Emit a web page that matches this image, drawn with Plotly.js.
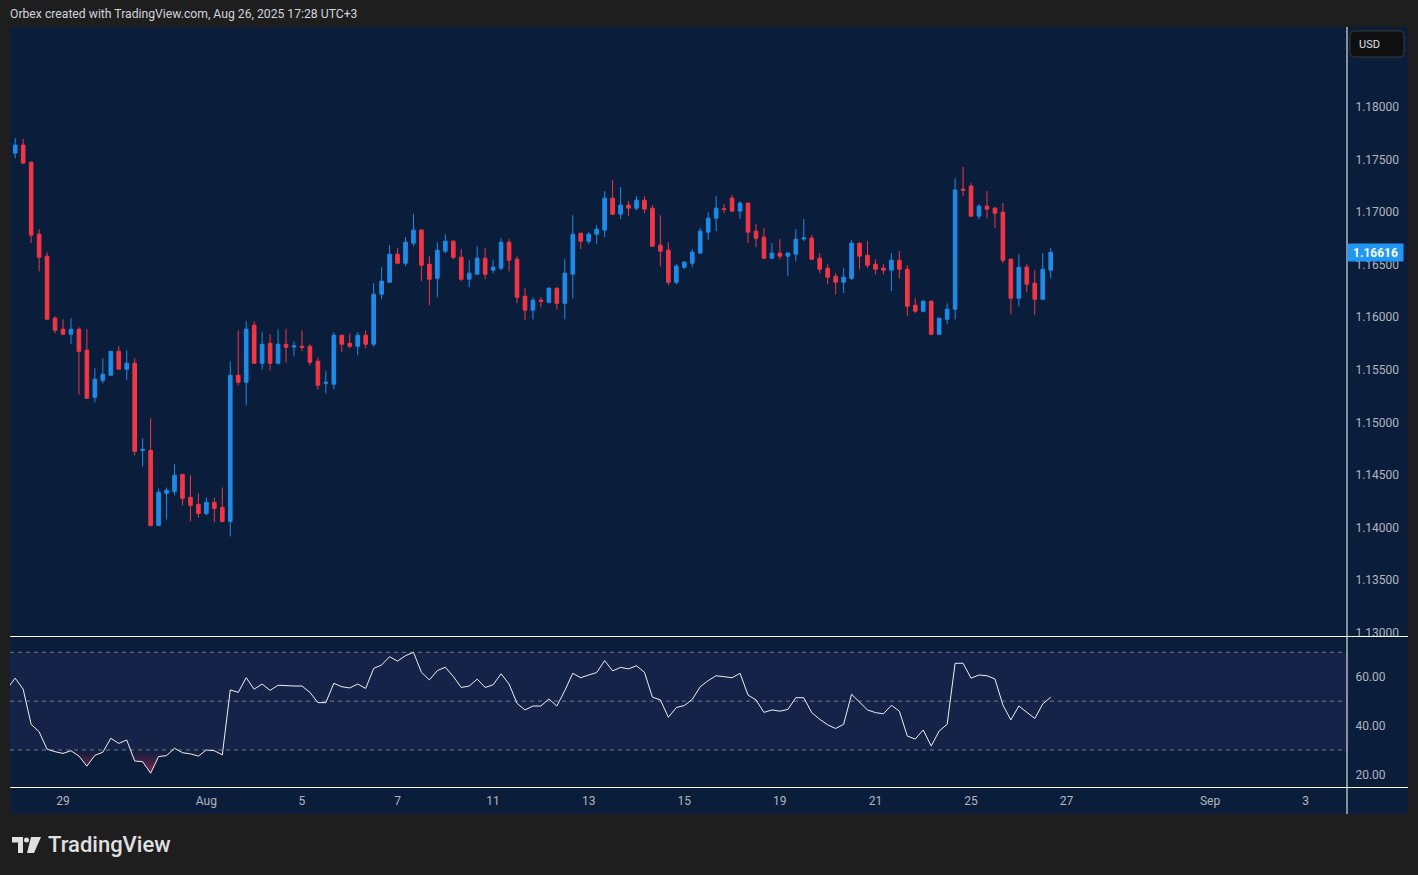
<!DOCTYPE html>
<html>
<head>
<meta charset="utf-8">
<script src="https://cdn.plot.ly/plotly-3.0.1.min.js"></script>
<style>
  html, body { margin: 0; padding: 0; background: #1e1e1e; }
  #chart { width: 1418px; height: 875px; }
</style>
</head>
<body>
<div id="chart"></div>
<script>
// ---- Data: EURUSD 4H candles, Jul 28 2025 00:00 -> Aug 26 2025 16:00 (UTC+3) ----
const opens = [
1.17562,1.17638,1.17476,1.16790,1.16581,1.15990,1.15886,1.15838,1.15886,1.15686,
1.15238,1.15400,1.15448,1.15676,1.15505,1.15562,1.14733,1.14733,1.14019,1.14324,
1.14343,1.14505,1.14286,1.14219,1.14133,1.14238,1.14190,1.14057,1.15448,1.15381,
1.15924,1.15562,1.15752,1.15562,1.15743,1.15717,1.15724,1.15724,1.15581,1.15371,
1.15362,1.15829,1.15752,1.15724,1.15829,1.15743,1.16219,1.16333,1.16600,1.16514,
1.16705,1.16829,1.16505,1.16371,1.16629,1.16724,1.16571,1.16362,1.16410,1.16562,
1.16448,1.16467,1.16714,1.16552,1.16200,1.16067,1.16162,1.16143,1.16276,1.16133,
1.16410,1.16800,1.16724,1.16790,1.16829,1.17133,1.16981,1.17067,1.17038,1.17114,
1.17038,1.16686,1.16638,1.16333,1.16476,1.16514,1.16610,1.16810,1.16943,1.17033,
1.17133,1.17010,1.17086,1.16819,1.16762,1.16562,1.16610,1.16581,1.16600,1.16745,
1.16752,1.16562,1.16467,1.16390,1.16333,1.16371,1.16705,1.16590,1.16505,1.16467,
1.16448,1.16543,1.16457,1.16114,1.16057,1.16152,1.15838,1.15981,1.16076,1.17219,
1.17248,1.16962,1.17057,1.17038,1.17000,1.16552,1.16181,1.16476,1.16324,1.16171,
1.16448];
const highs = [
1.17705,1.17695,1.17480,1.16838,1.16619,1.16010,1.15981,1.15990,1.15905,1.15886,
1.15514,1.15610,1.15676,1.15724,1.15686,1.15610,1.14848,1.15038,1.14371,1.14381,
1.14600,1.14505,1.14495,1.14324,1.14286,1.14286,1.14381,1.15581,1.15876,1.15962,
1.15962,1.15857,1.15838,1.15886,1.15886,1.15771,1.15876,1.15743,1.15619,1.15486,
1.15857,1.15829,1.15848,1.15857,1.15876,1.16324,1.16476,1.16686,1.16657,1.16762,
1.16981,1.16838,1.16581,1.16714,1.16790,1.16733,1.16648,1.16543,1.16676,1.16657,
1.16543,1.16752,1.16743,1.16581,1.16276,1.16190,1.16190,1.16286,1.16286,1.16552,
1.16971,1.16800,1.16810,1.16876,1.17200,1.17305,1.17238,1.17105,1.17152,1.17152,
1.17067,1.16971,1.16714,1.16505,1.16533,1.16648,1.16848,1.17000,1.17152,1.17076,
1.17162,1.17105,1.17086,1.16886,1.16848,1.16705,1.16743,1.16619,1.16838,1.16933,
1.16781,1.16610,1.16505,1.16419,1.16467,1.16733,1.16714,1.16724,1.16552,1.16505,
1.16610,1.16629,1.16495,1.16181,1.16162,1.16162,1.15995,1.16133,1.17324,1.17429,
1.17276,1.17076,1.17200,1.17048,1.17086,1.16562,1.16600,1.16505,1.16448,1.16610,
1.16657];
const lows = [
1.17514,1.17460,1.16708,1.16438,1.15981,1.15848,1.15838,1.15743,1.15267,1.15229,
1.15190,1.15371,1.15448,1.15505,1.15400,1.14686,1.14581,1.14010,1.14019,1.14076,
1.14305,1.14210,1.14057,1.14095,1.14114,1.14048,1.14048,1.13914,1.15352,1.15162,
1.15562,1.15505,1.15495,1.15552,1.15571,1.15629,1.15676,1.15543,1.15314,1.15276,
1.15314,1.15667,1.15705,1.15638,1.15705,1.15720,1.16171,1.16333,1.16505,1.16486,
1.16676,1.16343,1.16114,1.16190,1.16610,1.16552,1.16343,1.16286,1.16410,1.16362,
1.16419,1.16448,1.16438,1.16133,1.15971,1.15981,1.16095,1.16133,1.16076,1.15981,
1.16181,1.16648,1.16695,1.16695,1.16762,1.16971,1.16933,1.16962,1.17019,1.16990,
1.16676,1.16486,1.16305,1.16314,1.16457,1.16476,1.16610,1.16733,1.16819,1.16990,
1.17000,1.16933,1.16705,1.16667,1.16552,1.16562,1.16552,1.16390,1.16533,1.16724,
1.16543,1.16419,1.16314,1.16219,1.16229,1.16352,1.16457,1.16467,1.16410,1.16410,
1.16248,1.16371,1.16010,1.16038,1.16048,1.15829,1.15829,1.15933,1.15981,1.17152,
1.16952,1.16933,1.16943,1.16848,1.16514,1.16029,1.16105,1.16238,1.16019,1.16171,
1.16371];
const closes = [
1.17638,1.17467,1.16781,1.16571,1.15981,1.15876,1.15838,1.15886,1.15676,1.15229,
1.15410,1.15457,1.15676,1.15505,1.15562,1.14724,1.14743,1.14019,1.14333,1.14352,
1.14495,1.14276,1.14210,1.14133,1.14238,1.14181,1.14057,1.15448,1.15381,1.15886,
1.15562,1.15743,1.15562,1.15743,1.15714,1.15727,1.15714,1.15571,1.15352,1.15381,
1.15829,1.15743,1.15724,1.15829,1.15743,1.16219,1.16343,1.16600,1.16514,1.16714,
1.16829,1.16495,1.16362,1.16638,1.16724,1.16571,1.16362,1.16419,1.16562,1.16410,
1.16476,1.16714,1.16543,1.16190,1.16067,1.16162,1.16152,1.16276,1.16133,1.16419,
1.16790,1.16724,1.16790,1.16838,1.17133,1.16981,1.17067,1.17038,1.17114,1.17029,
1.16676,1.16629,1.16333,1.16486,1.16524,1.16619,1.16819,1.16943,1.17038,1.17025,
1.17010,1.17086,1.16810,1.16752,1.16562,1.16610,1.16581,1.16610,1.16743,1.16755,
1.16552,1.16457,1.16381,1.16333,1.16381,1.16705,1.16581,1.16495,1.16457,1.16448,
1.16543,1.16457,1.16105,1.16057,1.16152,1.15838,1.15990,1.16076,1.17210,1.17210,
1.16962,1.17057,1.17029,1.16990,1.16543,1.16181,1.16476,1.16314,1.16171,1.16457,
1.16616];
// RSI(14) values, first value belongs to the bar just before the first visible candle
const rsiValues = [
55.1,
59.4,54.9,40.5,37.5,30.3,29.3,28.6,29.7,27.5,23.4,
27.8,29.1,34.8,32.7,34.1,25.5,25.2,20.5,27.3,27.7,
30.7,28.9,28.4,27.5,30.0,29.7,28.0,54.6,53.6,59.6,
54.9,57.0,54.4,56.5,56.2,56.2,56.2,53.6,49.4,49.4,
57.3,55.9,55.4,57.0,55.2,63.4,64.8,68.2,66.4,68.6,
70.0,61.8,58.7,62.5,63.9,60.1,55.6,56.2,59.0,55.6,
56.7,61.2,57.0,49.1,46.4,48.0,48.0,50.9,48.0,54.3,
61.4,59.6,60.7,61.7,66.6,62.4,63.8,63.2,64.5,61.8,
51.6,50.5,43.4,47.4,48.2,50.7,55.9,58.4,60.4,60.0,
59.6,61.4,52.5,50.5,45.4,46.4,45.9,46.6,51.4,51.4,
45.3,42.6,40.3,38.8,40.5,52.8,49.4,46.4,45.3,44.8,
48.3,45.9,35.7,34.5,38.2,31.6,37.8,40.5,65.5,65.5,
59.4,60.7,60.4,59.1,48.4,42.3,48.0,45.4,42.9,48.8,
51.6];
const rsiFirstBar = -1;
// x-axis tick dates (trading-day axis, weekends removed) and labels
const tickDates = [[2025,7,29],[2025,8,1],[2025,8,5],[2025,8,7],[2025,8,11],[2025,8,13],[2025,8,15],
                   [2025,8,19],[2025,8,21],[2025,8,25],[2025,8,27],[2025,9,1],[2025,9,3]];
const tickLabels = ["29","Aug","5","7","11","13","15","19","21","25","27","Sep","3"];
const priceTicks = [1.13,1.135,1.14,1.145,1.15,1.155,1.16,1.165,1.17,1.175,1.18];
const rsiTicks = [20,40,60];
const rsiTickLabels = ["20.00","40.00","60.00"];
const rsiLevels = [70,50,30];

// ---- helpers ----
const BARS_PER_DAY = 6;
function barIndex(y, m, d) {
  const start = Date.UTC(2025, 6, 28);
  const t = Date.UTC(y, m - 1, d);
  let n = 0;
  for (let k = start; k < t; k += 86400000) {
    const wd = new Date(k).getUTCDay();
    if (wd !== 0 && wd !== 6) n++;
  }
  return n * BARS_PER_DAY;
}
const W = 1418, H = 875, L = 10, R = 1347, T = 27, B = 787;
const PX = px => (px - L) / (R - L);
const PY = py => (B - py) / (B - T);
function roundRect(x0, y0, x1, y1, r) {
  const X = PX, Y = PY;
  return `M${X(x0+r)},${Y(y0)} L${X(x1-r)},${Y(y0)} Q${X(x1)},${Y(y0)} ${X(x1)},${Y(y0+r)} ` +
         `L${X(x1)},${Y(y1-r)} Q${X(x1)},${Y(y1)} ${X(x1-r)},${Y(y1)} L${X(x0+r)},${Y(y1)} ` +
         `Q${X(x0)},${Y(y1)} ${X(x0)},${Y(y1-r)} L${X(x0)},${Y(y0+r)} Q${X(x0)},${Y(y0)} ${X(x0+r)},${Y(y0)} Z`;
}

const NAVY = '#0a1e3c';
const UP = '#1f8be6', DOWN = '#f23645';
const barX = closes.map((_, i) => i);
const rsiX = rsiValues.map((_, i) => i + rsiFirstBar);

const candles = {
  type: 'candlestick', x: barX, open: opens, high: highs, low: lows, close: closes,
  xaxis: 'x', yaxis: 'y',
  increasing: { line: { color: UP, width: 1 }, fillcolor: UP },
  decreasing: { line: { color: DOWN, width: 1 }, fillcolor: DOWN },
  whiskerwidth: 0, hoverinfo: 'skip', showlegend: false
};
const rsiBase = {
  type: 'scatter', mode: 'lines', x: rsiX, y: rsiX.map(() => 30),
  xaxis: 'x', yaxis: 'y2', line: { width: 0, color: 'rgba(0,0,0,0)' },
  hoverinfo: 'skip', showlegend: false
};
const rsiOversold = {
  type: 'scatter', mode: 'lines', x: rsiX, y: rsiValues.map(v => Math.min(v, 30)),
  xaxis: 'x', yaxis: 'y2', line: { width: 0, color: 'rgba(0,0,0,0)' },
  fill: 'tonexty', fillcolor: 'rgba(150,40,80,0.3)',
  fillgradient: { type: 'vertical', start: 20, stop: 30,
    colorscale: [[0, 'rgba(170,40,85,0.75)'], [1, 'rgba(170,40,85,0)']] },
  hoverinfo: 'skip', showlegend: false
};
const rsiLine = {
  type: 'scatter', mode: 'lines', x: rsiX, y: rsiValues,
  xaxis: 'x', yaxis: 'y2', line: { width: 1, color: '#f0f0f0' },
  hoverinfo: 'skip', showlegend: false
};

const tickFont = { family: 'Roboto, "Noto Sans", sans-serif', size: 12, color: '#b2b5be' };
const shapes = [
  // navy chart frame (plot + axis column + time-axis row)
  { type: 'rect', xref: 'paper', yref: 'paper', x0: PX(10), x1: PX(1408), y0: PY(27), y1: PY(814),
    fillcolor: NAVY, line: { width: 0 }, layer: 'below' },
  // RSI band 30-70
  { type: 'rect', xref: 'paper', yref: 'y2', x0: 0, x1: 1, y0: 30, y1: 70,
    fillcolor: 'rgba(126,87,194,0.1)', line: { width: 0 }, layer: 'below' },
  // separators
  { type: 'line', xref: 'paper', yref: 'paper', x0: PX(10), x1: PX(1408), y0: PY(636.5), y1: PY(636.5),
    line: { color: '#ffffff', width: 1 } },
  { type: 'line', xref: 'paper', yref: 'paper', x0: PX(10), x1: PX(1408), y0: PY(787.5), y1: PY(787.5),
    line: { color: '#ffffff', width: 1 } },
  { type: 'line', xref: 'paper', yref: 'paper', x0: PX(1347), x1: PX(1347), y0: PY(27), y1: PY(814),
    line: { color: '#ffffff', width: 1 } },
  // USD box
  { type: 'path', xref: 'paper', yref: 'paper', path: roundRect(1350, 31, 1404, 57, 4),
    fillcolor: '#0f0f0f', line: { color: '#3a3a3a', width: 1 } },
  // TradingView logo glyph
  { type: 'path', xref: 'paper', yref: 'paper',
    path: `M${PX(12)},${PY(837)} L${PX(23)},${PY(837)} L${PX(23)},${PY(853)} L${PX(18)},${PY(853)} L${PX(18)},${PY(842.5)} L${PX(12)},${PY(842.5)} Z`,
    fillcolor: '#e0e0e0', line: { width: 0 } },
  { type: 'circle', xref: 'paper', yref: 'paper', x0: PX(24), x1: PX(29), y0: PY(837.5), y1: PY(842.5),
    fillcolor: '#e0e0e0', line: { width: 0 } },
  { type: 'path', xref: 'paper', yref: 'paper',
    path: `M${PX(31)},${PY(837)} L${PX(41)},${PY(837)} L${PX(34)},${PY(853)} L${PX(27)},${PY(853)} Z`,
    fillcolor: '#e0e0e0', line: { width: 0 } }
];
rsiLevels.forEach(v => shapes.push({
  type: 'line', xref: 'paper', yref: 'y2', x0: 0, x1: 1, y0: v, y1: v,
  line: { color: 'rgba(150,153,162,0.75)', width: 1, dash: '4px,4px' }, layer: 'below'
}));

const lastClose = closes[closes.length - 1];
const annotations = [
  { xref: 'paper', yref: 'paper', x: PX(8), y: PY(14), xanchor: 'left', yanchor: 'middle',
    text: 'Orbex created with TradingView.com, Aug 26, 2025 17:28 UTC+3', showarrow: false,
    font: { family: 'Roboto, "Noto Sans", sans-serif', size: 12.2, color: '#d1d4dc' } },
  { xref: 'paper', yref: 'paper', x: PX(1357), y: PY(44), xanchor: 'left', yanchor: 'middle',
    text: 'USD', showarrow: false,
    font: { family: 'Roboto, "Noto Sans", sans-serif', size: 11, color: '#e0e3eb' } },
  { xref: 'paper', yref: 'y', x: PX(1347), y: lastClose, xanchor: 'left', yanchor: 'middle',
    text: '<b>' + lastClose.toFixed(5) + '</b>', showarrow: false, bgcolor: '#2196f3',
    width: 51, height: 13, borderpad: 2, align: 'center',
    font: { family: 'Roboto, "Noto Sans", sans-serif', size: 12, color: '#ffffff' } },
  { xref: 'paper', yref: 'paper', x: PX(46), y: PY(845), xanchor: 'left', yanchor: 'middle',
    text: 'TradingView', showarrow: false,
    font: { family: 'Roboto, "Noto Sans", sans-serif', size: 22, color: '#e0e0e0', weight: 500 } }
];

const layout = {
  width: W, height: H,
  margin: { l: L, r: W - R, t: T, b: H - B, pad: 0 },
  paper_bgcolor: '#1e1e1e', plot_bgcolor: NAVY,
  showlegend: false, boxgap: 0.35, dragmode: false, hovermode: false,
  xaxis: {
    anchor: 'y2', range: [-0.654, 167.2],
    tickmode: 'array', tickvals: tickDates.map(d => barIndex(d[0], d[1], d[2])), ticktext: tickLabels,
    ticks: 'outside', ticklen: 3, tickcolor: 'rgba(0,0,0,0)', tickfont: tickFont,
    showgrid: false, zeroline: false, showline: false, fixedrange: true,
    rangeslider: { visible: false }
  },
  yaxis: {
    domain: [PY(636.5), 1], anchor: 'x', side: 'right', range: [1.12962, 1.18762],
    tickmode: 'array', tickvals: priceTicks, tickformat: '.5f',
    ticks: 'outside', ticklen: 5, tickcolor: 'rgba(0,0,0,0)', tickfont: tickFont,
    showgrid: false, zeroline: false, showline: false, fixedrange: true
  },
  yaxis2: {
    domain: [0, PY(637)], anchor: 'x', side: 'right', range: [14.85, 76.26],
    tickmode: 'array', tickvals: rsiTicks, ticktext: rsiTickLabels,
    ticks: 'outside', ticklen: 5, tickcolor: 'rgba(0,0,0,0)', tickfont: tickFont,
    showgrid: false, zeroline: false, showline: false, fixedrange: true
  },
  shapes: shapes,
  annotations: annotations
};

Plotly.newPlot('chart', [rsiBase, rsiOversold, rsiLine, candles], layout,
  { displayModeBar: false, staticPlot: true });
</script>
</body>
</html>
